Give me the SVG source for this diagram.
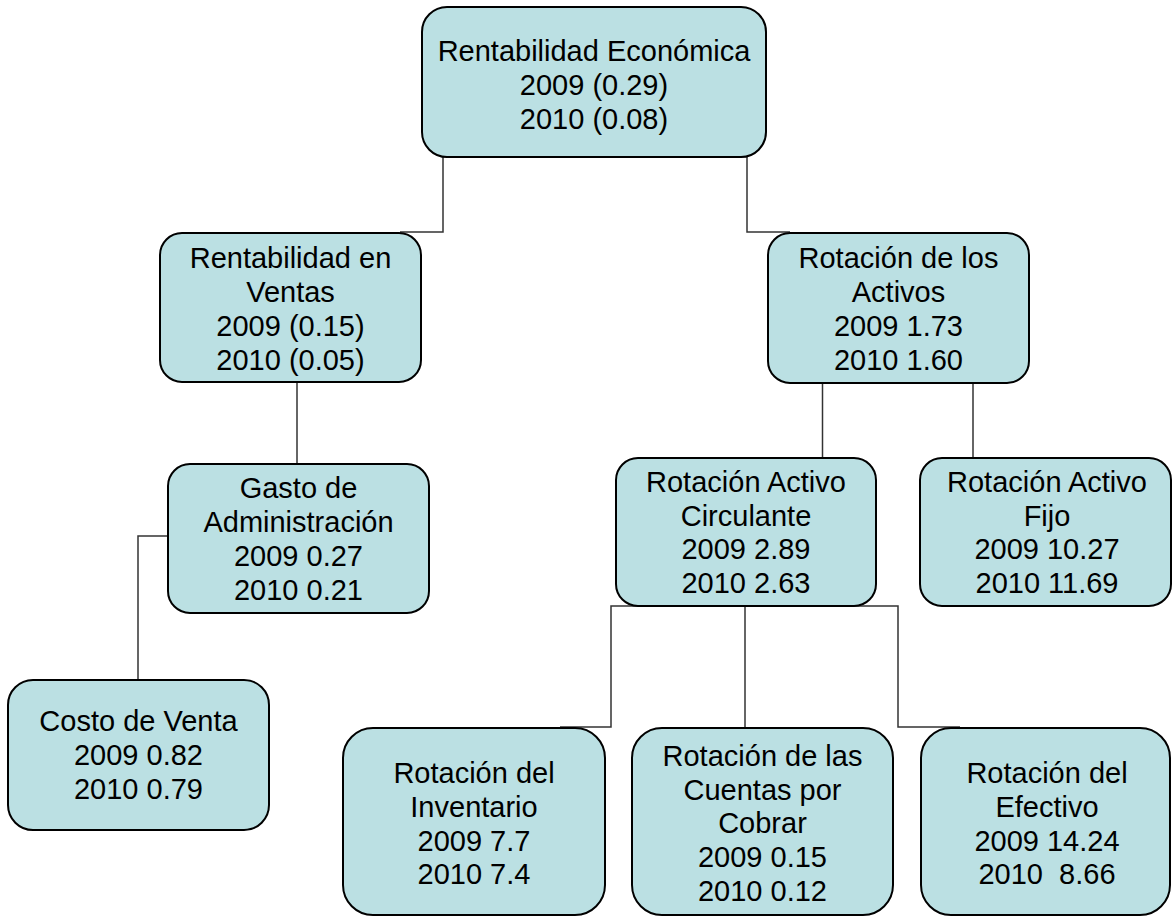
<svg xmlns="http://www.w3.org/2000/svg" width="1172" height="917" viewBox="0 0 1172 917">
<style>
.box{fill:#BBE0E3;stroke:#000;stroke-width:2}
.t{font-family:"Liberation Sans",Arial,sans-serif;font-size:29px;fill:#000;text-anchor:middle;white-space:pre}
.c{fill:none;stroke:#333;stroke-width:1.5}
</style>
<rect width="1172" height="917" fill="#fff"/>
<g id="connectors">
<path class="c" d="M443,157 V232 H400"/>
<path class="c" d="M747,157 V232 H790"/>
<path class="c" d="M297,382 V464"/>
<path class="c" d="M168,536 H138 V680"/>
<path class="c" d="M822.5,383 V458"/>
<path class="c" d="M973,383 V458"/>
<path class="c" d="M560,727 H611 V606 H898 V727 H960"/>
<path class="c" d="M745,606 V728"/>
</g>
<g id="n-rentabilidad-economica">
<rect class="box" x="422" y="7" width="344" height="150" rx="25"/>
<text class="t" x="594"><tspan x="594" y="61">Rentabilidad Económica</tspan><tspan x="594" y="95">2009 (0.29)</tspan><tspan x="594" y="129">2010 (0.08)</tspan></text>
</g>
<g id="n-rentabilidad-ventas">
<rect class="box" x="160" y="233" width="261" height="149" rx="22"/>
<text class="t"><tspan x="290.5" y="268">Rentabilidad en</tspan><tspan x="290.5" y="302">Ventas</tspan><tspan x="290.5" y="336">2009 (0.15)</tspan><tspan x="290.5" y="370">2010 (0.05)</tspan></text>
</g>
<g id="n-rotacion-activos">
<rect class="box" x="768" y="233" width="261" height="150" rx="22"/>
<text class="t"><tspan x="898.5" y="268">Rotación de los</tspan><tspan x="898.5" y="302">Activos</tspan><tspan x="898.5" y="336">2009 1.73</tspan><tspan x="898.5" y="370">2010 1.60</tspan></text>
</g>
<g id="n-gasto-administracion">
<rect class="box" x="168" y="464" width="261" height="149" rx="22"/>
<text class="t"><tspan x="298.5" y="498">Gasto de</tspan><tspan x="298.5" y="532">Administración</tspan><tspan x="298.5" y="566">2009 0.27</tspan><tspan x="298.5" y="600">2010 0.21</tspan></text>
</g>
<g id="n-rotacion-circulante">
<rect class="box" x="616" y="458" width="260" height="148" rx="22"/>
<text class="t"><tspan x="746" y="492">Rotación Activo</tspan><tspan x="746" y="526">Circulante</tspan><tspan x="746" y="559">2009 2.89</tspan><tspan x="746" y="593">2010 2.63</tspan></text>
</g>
<g id="n-rotacion-fijo">
<rect class="box" x="920" y="458" width="251" height="148" rx="22"/>
<text class="t"><tspan x="1047" y="492">Rotación Activo</tspan><tspan x="1047" y="526">Fijo</tspan><tspan x="1047" y="559">2009 10.27</tspan><tspan x="1047" y="593">2010 11.69</tspan></text>
</g>
<g id="n-costo-venta">
<rect class="box" x="8" y="680" width="261" height="150" rx="25"/>
<text class="t"><tspan x="138.5" y="731">Costo de Venta</tspan><tspan x="138.5" y="765">2009 0.82</tspan><tspan x="138.5" y="799">2010 0.79</tspan></text>
</g>
<g id="n-rotacion-inventario">
<rect class="box" x="343" y="728" width="262" height="187" rx="30"/>
<text class="t"><tspan x="474" y="783">Rotación del</tspan><tspan x="474" y="817">Inventario</tspan><tspan x="474" y="851">2009 7.7</tspan><tspan x="474" y="884">2010 7.4</tspan></text>
</g>
<g id="n-rotacion-cuentas">
<rect class="box" x="632" y="728" width="261" height="187" rx="30"/>
<text class="t"><tspan x="762.5" y="766">Rotación de las</tspan><tspan x="762.5" y="800">Cuentas por</tspan><tspan x="762.5" y="833">Cobrar</tspan><tspan x="762.5" y="867">2009 0.15</tspan><tspan x="762.5" y="901">2010 0.12</tspan></text>
</g>
<g id="n-rotacion-efectivo">
<rect class="box" x="921" y="728" width="249" height="187" rx="30"/>
<text class="t"><tspan x="1047" y="783">Rotación del</tspan><tspan x="1047" y="817">Efectivo</tspan><tspan x="1047" y="851">2009 14.24</tspan><tspan x="1047" y="884">2010  8.66</tspan></text>
</g>
</svg>
